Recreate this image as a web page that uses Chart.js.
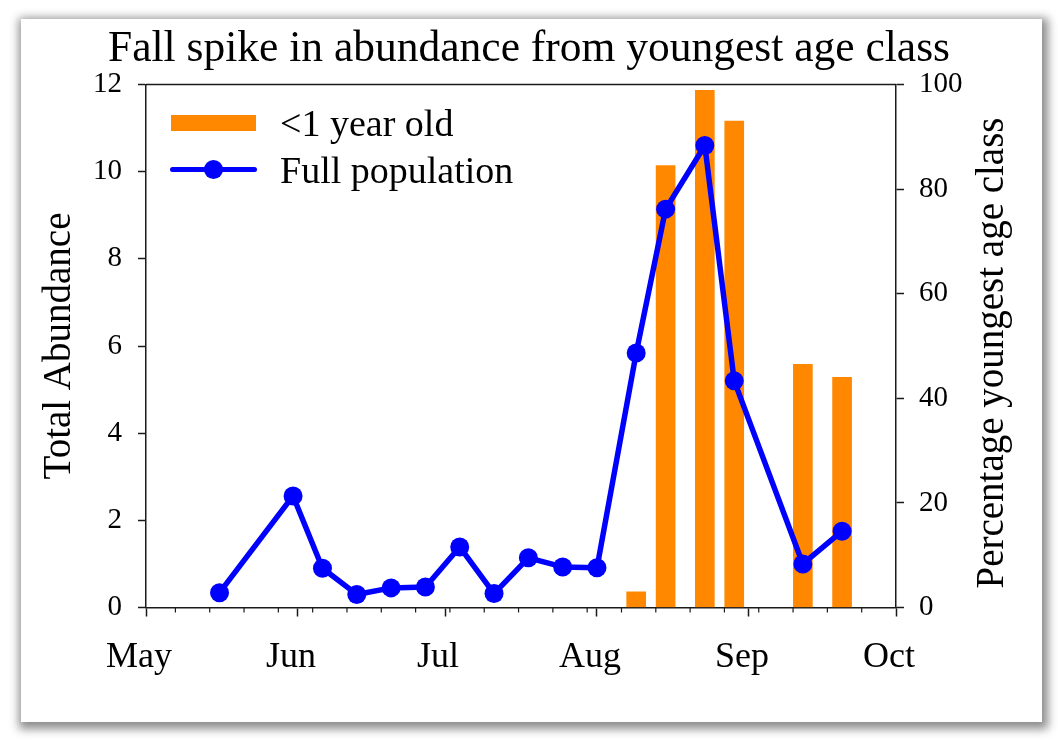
<!DOCTYPE html>
<html><head><meta charset="utf-8">
<script src="https://cdn.jsdelivr.net/npm/chart.js@4.4.1/dist/chart.umd.min.js"></script>
<style>
html,body{margin:0;padding:0;background:#fff;width:1058px;height:740px;overflow:hidden;}
#card{position:absolute;left:21px;top:19px;width:1021px;height:703px;background:#fff;box-shadow:2px 3px 9px 4px rgba(0,0,0,0.45);}
#wrap{position:absolute;left:0;top:0;width:1058px;height:740px;}
#legend{position:absolute;left:0;top:0;width:0;height:0;font-family:'Liberation Serif',serif;font-size:38px;color:#000;}
#legend .txt{position:absolute;white-space:nowrap;line-height:42px;}
#legend .mk{position:absolute;}
</style></head>
<body>
<div id="card"></div>
<div id="wrap"><canvas id="c"></canvas></div>
<div id="legend"></div>
<script>
// ---- data (days counted from May 1) ----
const monthDays   = [0, 31, 61, 92, 123, 153];
const monthLabels = ['May', 'Jun', 'Jul', 'Aug', 'Sep', 'Oct'];
const weekTickDays = [6, 13, 20, 27, 34, 41, 48, 55, 62, 69, 76, 83, 90, 97, 104, 111, 118, 125, 132, 139, 146];

const lineDays  = [15, 30, 36, 43, 50, 57, 64, 71, 78, 85, 92, 100, 106, 114, 120, 134, 142];
const abundance = [0.34, 2.56, 0.90, 0.30, 0.45, 0.47, 1.39, 0.32, 1.14, 0.93, 0.91, 5.84, 9.14, 10.6, 5.2, 1.0, 1.75];

const barDays   = [100, 106, 114, 120, 134, 142];
const youngPct  = [3.0, 84.5, 98.9, 93.0, 46.5, 44.0];

const leftTicksMax = 12, leftStep = 2;
const rightTicksMax = 100, rightStep = 20;

const titleText = 'Fall spike in abundance from youngest age class';
const leftTitle = 'Total Abundance';
const rightTitle = 'Percentage youngest age class';
const barLabel = '<1 year old';
const lineLabel = 'Full population';

const FONT = "'Liberation Serif', serif";
const ORANGE = '#FF8800';
const BLUE = '#0000FF';
const AXIS = '#1a1a1a';

const frameAndTicks = {
  id: 'frameAndTicks',
  afterDraw(chart) {
    const {ctx, chartArea, scales} = chart;
    ctx.save();
    ctx.strokeStyle = AXIS;
    ctx.lineWidth = 1.5;
    // top frame line
    ctx.beginPath();
    ctx.moveTo(chartArea.left, chartArea.top);
    ctx.lineTo(chartArea.right, chartArea.top);
    ctx.stroke();
    // minor weekly ticks
    ctx.lineWidth = 1.2;
    weekTickDays.forEach(d => {
      const x = scales.x.getPixelForValue(d);
      ctx.beginPath();
      ctx.moveTo(x, chartArea.bottom);
      ctx.lineTo(x, chartArea.bottom + 5);
      ctx.stroke();
    });
    // right axis title (reads bottom-to-top)
    ctx.fillStyle = '#000';
    ctx.font = "39px " + FONT;
    ctx.textAlign = 'center';
    ctx.textBaseline = 'middle';
    ctx.translate(993, (chartArea.top + chartArea.bottom) / 2 + 7);
    ctx.rotate(-Math.PI / 2);
    ctx.fillText(rightTitle, 0, 0);
    ctx.restore();
  }
};

const chart = new Chart(document.getElementById('c'), {
  type: 'bar',
  data: {
    datasets: [
      {
        type: 'line',
        label: lineLabel,
        data: lineDays.map((d, i) => ({x: d, y: abundance[i]})),
        xAxisID: 'x', yAxisID: 'y',
        borderColor: BLUE, backgroundColor: BLUE,
        borderWidth: 5.5, pointRadius: 9.5, pointBorderWidth: 0,
        pointBackgroundColor: BLUE, tension: 0,
        borderJoinStyle: 'round', borderCapStyle: 'round',
        order: 1
      },
      {
        type: 'bar',
        label: barLabel,
        data: barDays.map((d, i) => ({x: d, y: youngPct[i]})),
        xAxisID: 'x', yAxisID: 'y1',
        backgroundColor: ORANGE, borderWidth: 0,
        barThickness: 19,
        order: 2
      }
    ]
  },
  options: {
    responsive: true, maintainAspectRatio: false, animation: false,
    layout: {padding: 0},
    plugins: {
      legend: {display: false},
      tooltip: {enabled: false},
      title: {
        display: true, text: titleText, color: '#000',
        font: {family: FONT, size: 43.5, weight: 'normal', lineHeight: 1.2},
        padding: {top: 23.9, bottom: 8.4}
      }
    },
    scales: {
      x: {
        type: 'linear', position: 'bottom', min: 0, max: 153, offset: false,
        afterBuildTicks: s => { s.ticks = monthDays.map(v => ({value: v})); },
        afterFit: s => { s.height = 132.5; },
        ticks: {
          autoSkip: false, maxRotation: 0, padding: 19.2, labelOffset: -7, color: '#000',
          font: {family: FONT, size: 36},
          callback: v => monthLabels[monthDays.indexOf(v)]
        },
        grid: {drawOnChartArea: false, tickLength: 9, tickColor: AXIS, tickWidth: 1.5, offset: false},
        border: {display: true, color: AXIS, width: 1.5}
      },
      y: {
        position: 'left', min: 0, max: leftTicksMax,
        afterFit: s => { s.width = 146; },
        ticks: {stepSize: leftStep, padding: 16, color: '#000', font: {family: FONT, size: 29}},
        grid: {drawOnChartArea: false, tickLength: 8, tickColor: AXIS, tickWidth: 1.5},
        border: {display: true, color: AXIS, width: 1.5},
        title: {display: true, text: leftTitle, color: '#000',
          font: {family: FONT, size: 39, lineHeight: 1.2}, padding: {top: 36.4, bottom: 0}}
      },
      y1: {
        position: 'right', min: 0, max: rightTicksMax,
        afterFit: s => { s.width = 162; },
        ticks: {stepSize: rightStep, padding: 15, color: '#000', font: {family: FONT, size: 29}},
        grid: {drawOnChartArea: false, tickLength: 8, tickColor: AXIS, tickWidth: 1.5},
        border: {display: true, color: AXIS, width: 1.5}
      }
    }
  },
  plugins: [frameAndTicks]
});

// ---- HTML legend built from the datasets ----
(function buildLegend() {
  const lg = document.getElementById('legend');
  const bar = chart.data.datasets[1], line = chart.data.datasets[0];
  const rows = [
    {ds: bar, baseline: 135},
    {ds: line, baseline: 181.7}
  ];
  rows.forEach(r => {
    const cy = r.baseline - 12;
    if (r.ds.type === 'bar') {
      const m = document.createElement('div');
      m.className = 'mk';
      m.style.cssText = `left:171px;top:${cy - 8}px;width:85px;height:16px;background:${r.ds.backgroundColor};`;
      lg.appendChild(m);
    } else {
      const l = document.createElement('div');
      l.className = 'mk';
      l.style.cssText = `left:170px;top:${cy - 2.5}px;width:87px;height:5px;border-radius:2.5px;background:${r.ds.borderColor};`;
      lg.appendChild(l);
      const c = document.createElement('div');
      c.className = 'mk';
      c.style.cssText = `left:${213 - 9.5}px;top:${cy - 9.5}px;width:19px;height:19px;border-radius:50%;background:${r.ds.pointBackgroundColor};`;
      lg.appendChild(c);
    }
    const t = document.createElement('div');
    t.className = 'txt';
    t.textContent = r.ds.label;
    t.style.left = '280px';
    t.style.top = (r.baseline - 21 - 11.6) + 'px';
    lg.appendChild(t);
  });
})();
</script>
</body></html>
